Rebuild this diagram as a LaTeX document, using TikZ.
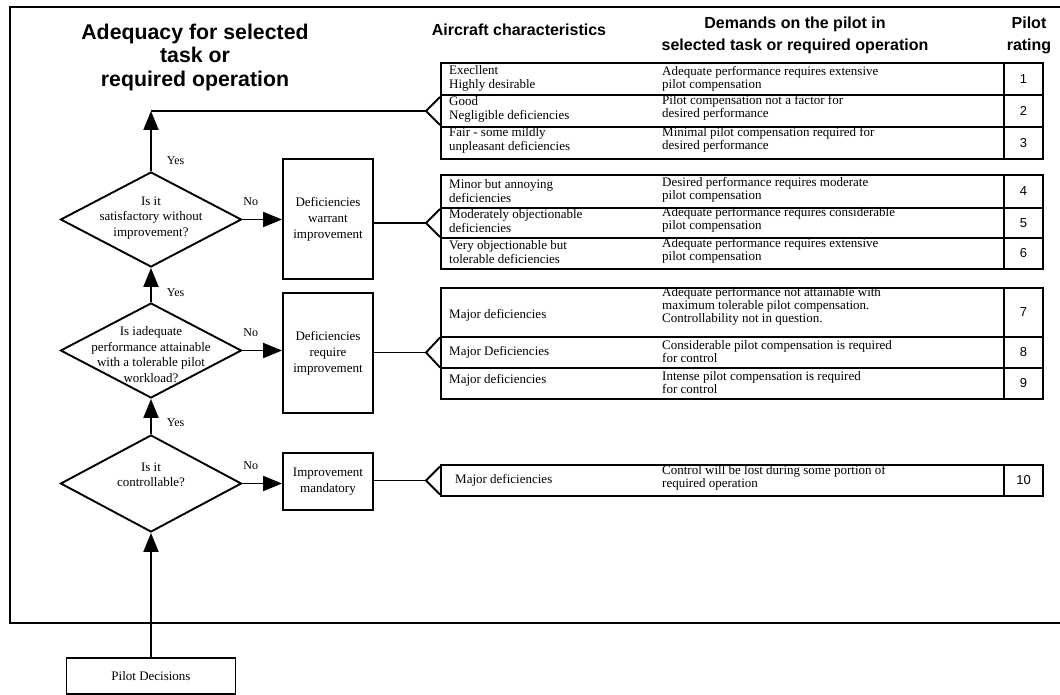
\documentclass[tikz,border=0pt]{standalone}
\usepackage{fontspec}
\setmainfont{Liberation Serif}
\setsansfont{Liberation Sans}
\usetikzlibrary{arrows.meta,positioning,shapes.geometric}
\tikzset{
  hqFrame/.style={line width=1.9pt},
  hqTitle/.style={align=center, inner sep=0pt,
                  font=\sffamily\bfseries\fontsize{21.3}{23.5}\selectfont},
  hqHead/.style={align=center, inner sep=0pt,
                 font=\sffamily\bfseries\fontsize{16}{22}\selectfont},
  hqBox/.style={draw, line width=1.9pt, minimum width=90pt, align=center,
                inner sep=0pt, font=\fontsize{13}{16}\selectfont},
  hqDecision/.style={draw, diamond, line width=1.9pt, minimum width=181pt,
                     minimum height=95pt, inner sep=0pt},
  hqQuestion/.style={align=center, inner sep=0pt,
                     font=\fontsize{13}{15.5}\selectfont},
  hqRow/.style={draw, line width=1.9pt, minimum width=563pt, inner sep=0pt},
  hqRate/.style={draw, line width=1.9pt, minimum width=39pt, inner sep=0pt,
                 font=\sffamily\fontsize{13}{15}\selectfont},
  hqChar/.style={anchor=west, align=left, inner sep=0pt,
                 font=\fontsize{13}{14}\selectfont},
  hqDemand/.style={anchor=west, align=left, inner sep=0pt,
                   font=\fontsize{13}{13}\selectfont},
  hqArrow/.style={-{Triangle[length=19pt,width=15pt]}, line width=1.9pt},
  hqLine/.style={line width=1.9pt},
  hqYes/.style={anchor=west, xshift=15pt, inner sep=0pt,
                font=\fontsize{12}{14}\selectfont},
  hqNo/.style={anchor=south, yshift=13pt, inner sep=0pt,
               font=\fontsize{12}{14}\selectfont}
}
\begin{document}
\begin{tikzpicture}[x=1pt,y=-1pt]
  \useasboundingbox (0,0) rectangle (1060,695);
  \draw[hqFrame] (1065,7) -- (10,7) -- (10,623) -- (1065,623);

  \node[hqTitle] (title) at (195,57)
        {Adequacy for selected\\task or\\required operation};
  \node[hqHead] (hchar) at (519,30) {Aircraft characteristics};
  \node[hqHead] (hdem) at (795,35)
        {Demands on the pilot in\\selected task or required operation};
  \node[hqHead] (hrate) at (1029,35) {Pilot\\rating};

  \node[hqDecision] (d1) at (151,219.5) {};
  \node[hqQuestion] (q1) at (151,218) {Is it\\satisfactory without\\improvement?};
  \node[hqDecision] (d2) at (151,350.5) {};
  \node[hqQuestion] (q2) at (151,354.5)
        {Is iadequate\\performance attainable\\with a tolerable pilot\\workload?};
  \node[hqDecision, minimum height=97pt] (d3) at (151,483.5) {};
  \node[hqQuestion] (q3) at (151,475) {Is it\\controllable?};

  \node[hqBox, minimum height=120pt] (b1) at (328,219)
        {Deficiencies\\warrant\\improvement};
  \node[hqBox, minimum height=120pt] (b2) at (328,353)
        {Deficiencies\\require\\improvement};
  \node[hqBox, minimum height=57pt] (b3) at (328,481.5)
        {Improvement\\mandatory};
  \node[hqBox, minimum width=169pt, minimum height=36pt, line width=1.4pt]
        (pd) at (151,676) {Pilot Decisions};

  \node[hqRow, minimum height=32pt] (r1) at (722.5,79) {};
  \node[hqRow, minimum height=32pt] (r2) at (722.5,111) {};
  \node[hqRow, minimum height=32pt] (r3) at (722.5,143) {};
  \node[hqRow, minimum height=33pt] (r4) at (722.5,191.5) {};
  \node[hqRow, minimum height=30pt] (r5) at (722.5,223) {};
  \node[hqRow, minimum height=31pt] (r6) at (722.5,253.5) {};
  \node[hqRow, minimum height=49pt] (r7) at (722.5,312.5) {};
  \node[hqRow, minimum height=31pt] (r8) at (722.5,352.5) {};
  \node[hqRow, minimum height=31pt] (r9) at (722.5,383.5) {};
  \node[hqRow, minimum height=31pt] (r10) at (722.5,480.5) {};

  \node[hqRate, minimum height=32pt] (n1) at (1023.5,79) {1};
  \node[hqRate, minimum height=32pt] (n2) at (1023.5,111) {2};
  \node[hqRate, minimum height=32pt] (n3) at (1023.5,143) {3};
  \node[hqRate, minimum height=33pt] (n4) at (1023.5,191.5) {4};
  \node[hqRate, minimum height=30pt] (n5) at (1023.5,223) {5};
  \node[hqRate, minimum height=31pt] (n6) at (1023.5,253.5) {6};
  \node[hqRate, minimum height=49pt] (n7) at (1023.5,312.5) {7};
  \node[hqRate, minimum height=31pt] (n8) at (1023.5,352.5) {8};
  \node[hqRate, minimum height=31pt] (n9) at (1023.5,383.5) {9};
  \node[hqRate, minimum height=31pt] (n10) at (1023.5,480.5) {10};

  \node[hqChar] (c1) at (449,78) {Execllent\\Highly desirable};
  \node[hqChar] (c2) at (449,109.5) {Good\\Negligible deficiencies};
  \node[hqChar] (c3) at (449,140) {Fair - some mildly\\unpleasant deficiencies};
  \node[hqChar] (c4) at (449,191.5) {Minor but annoying\\deficiencies};
  \node[hqChar] (c5) at (449,221.5) {Moderately objectionable\\deficiencies};
  \node[hqChar] (c6) at (449,252.5) {Very objectionable but\\tolerable deficiencies};
  \node[hqChar] (c7) at (449,315) {Major deficiencies};
  \node[hqChar] (c8) at (449,352) {Major Deficiencies};
  \node[hqChar] (c9) at (449,380) {Major deficiencies};
  \node[hqChar] (c10) at (455,480) {Major deficiencies};

  \node[hqDemand] (m1) at (662,78.5)
        {Adequate performance requires extensive\\pilot compensation};
  \node[hqDemand] (m2) at (662,107.5)
        {Pilot compensation not a factor for\\desired performance};
  \node[hqDemand] (m3) at (662,140)
        {Minimal pilot compensation required for\\desired performance};
  \node[hqDemand] (m4) at (662,190)
        {Desired performance requires moderate\\pilot compensation};
  \node[hqDemand] (m5) at (662,220)
        {Adequate performance requires considerable\\pilot compensation};
  \node[hqDemand] (m6) at (662,251)
        {Adequate performance requires extensive\\pilot compensation};
  \node[hqDemand] (m7) at (662,306)
        {Adequate performance not attainable with\\maximum tolerable pilot compensation.\\Controllability not in question.};
  \node[hqDemand] (m8) at (662,351.5)
        {Considerable pilot compensation is required\\for control};
  \node[hqDemand] (m9) at (662,383)
        {Intense pilot compensation is required\\for control};
  \node[hqDemand] (m10) at (662,477.5)
        {Control will be lost during some portion of\\required operation};

  \coordinate (t1) at ([xshift=-14pt]r2.west);
  \coordinate (t2) at ([xshift=-14pt]r5.west);
  \coordinate (t3) at ([xshift=-14pt]r8.west);
  \coordinate (t4) at ([xshift=-14pt]r10.west);
  \coordinate (top) at (d1.north |- t1);

  \draw[hqLine] ([yshift=14pt]r2.west) -- (t1) -- ([yshift=-14pt]r2.west);
  \draw[hqLine] ([yshift=14pt]r5.west) -- (t2) -- ([yshift=-14pt]r5.west);
  \draw[hqLine] ([yshift=15pt]r8.west) -- (t3) -- ([yshift=-15pt]r8.west);
  \draw[hqLine] ([yshift=14pt]r10.west) -- (t4) -- ([yshift=-14pt]r10.west);

  \draw[hqArrow] (d1.north) -- node[hqYes, pos=0.18] {Yes} (top);
  \draw[hqLine] (top) -- (t1);
  \draw[hqArrow] (d2.north) -- node[hqYes, pos=0.28] {Yes} (d1.south);
  \draw[hqArrow] (d3.north) -- node[hqYes, pos=0.32] {Yes} (d2.south);
  \draw[hqArrow] (pd.north) -- (d3.south);

  \draw[hqArrow] (d1.east) -- node[hqNo, pos=0.21] {No} (d1.east -| b1.west);
  \draw[hqArrow] (d2.east) -- node[hqNo, pos=0.21] {No} (d2.east -| b2.west);
  \draw[hqArrow] (d3.east) -- node[hqNo, pos=0.21] {No} (d3.east -| b3.west);

  \draw[hqLine] (b1.east |- t2) -- (t2);
  \draw[hqLine] (b2.east |- t3) -- (t3);
  \draw[hqLine] (b3.east |- t4) -- (t4);
\end{tikzpicture}
\end{document}
